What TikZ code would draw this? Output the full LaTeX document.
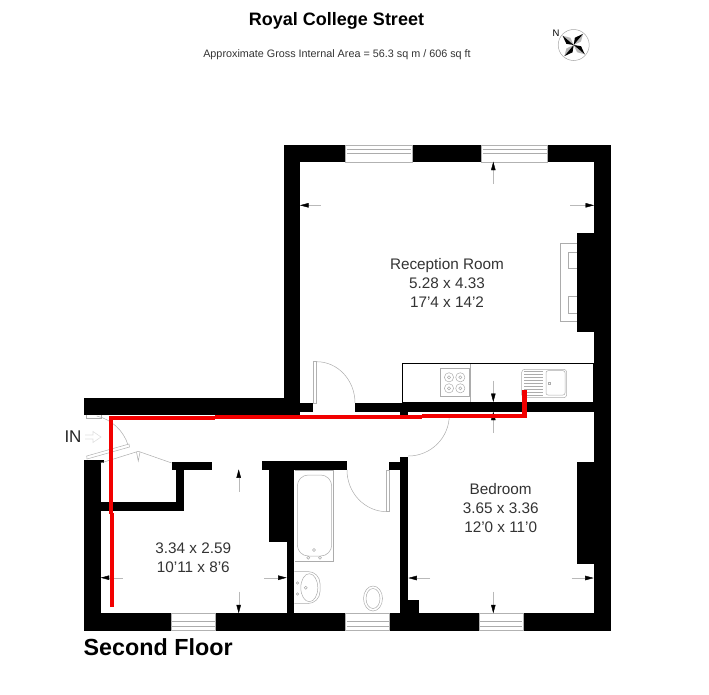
\documentclass[tikz,border=0pt]{standalone}
\usepackage{fontspec}
\setmainfont{Liberation Sans}
\usetikzlibrary{arrows.meta}
\begin{document}
\begin{tikzpicture}[x=1pt,y=-1pt,
    wall/.style ={fill=black},
    glass/.style ={draw=gray!60, line width=0.5pt, fill=white},
    fitting/.style ={draw=gray!65, line width=0.5pt},
    dimline/.style ={draw=gray!55, line width=0.4pt, -{Triangle[length=8.5pt,width=4.5pt,color=black]}},
    room/.style ={align=center, text=black!80, font=\fontsize{15.3}{19}\selectfont},
    route/.style ={draw=red!95!black, line width=4.3pt}]
   \useasboundingbox (0,0) rectangle (709,694);
   \foreach \xa/\ya/\xb/\yb in {283.5/145/610.7/162, 283.5/145/300/412, 594/145/610.7/630.7,
      577/232.7/594/332.3, 577/461.7/594/564, 355/403/594/411.7, 300/403/313.3/411.7,
      83.7/397.5/300/414.5, 400/411/408/415, 400/456.7/408.3/613.3, 389/461.7/408.3/469.7,
      400/600/419.3/613.3, 83.7/613.3/610.7/630.7, 83.7/460/100.7/613.3, 100/460/104/463,
      100.7/502.3/183.7/511, 175.7/463/183.7/511, 171.7/461.7/211.7/470,
      261.7/461/346.7/470, 269.3/461/294.3/541.7, 286.7/541/294.3/613.3}
      \fill[wall] (\xa,\ya) rectangle (\xb,\yb);
   \foreach \xa/\xb in {345.7/412, 481.7/547.7}{
      \draw[glass] (\xa,145) rectangle (\xb,162);
      \draw[fitting] (\xa+1,149.3) -- (\xb-1,149.3) (\xa+1,153.3) -- (\xb-1,153.3);
   }
   \foreach \xa/\xb in {171/215.7, 345.7/389.7, 479.3/523.3}{
      \draw[glass] (\xa,613.3) rectangle (\xb,630.7);
      \draw[fitting] (\xa+1,621.7) -- (\xb-1,621.7) (\xa+1,626) -- (\xb-1,626);
   }
   % fireplace
   \draw[fitting] (577,243.7) -- (560,243.7) -- (560,321) -- (577,321);
   \draw[fitting] (577,252) -- (568.7,252) -- (568.7,268) -- (577,268);
   \draw[fitting] (577,296) -- (568.7,296) -- (568.7,313) -- (577,313);
   % kitchen
   \draw[fitting] (440,368.3) rectangle (469,396.7);
   \draw[fitting] (470.3,363.3) -- (470.3,402.3);
   \foreach \cx in {449,460.3}
      \foreach \cy in {377.3,388.3}{
         \draw[fitting] (\cx,\cy) circle (4.6pt);
         \draw[fitting] (\cx,\cy) circle (1.6pt);
      }
   \draw[fitting, rounded corners=3pt] (521.7,369.3) rectangle (566.7,397.7);
   \draw[fitting, rounded corners=2pt] (546,370.7) rectangle (565,395);
   \draw[fitting] (548.3,382.3) rectangle (550.3,384.3);
   \foreach \ly in {371,374,377,380,383,386,389,392,395}
      \draw[fitting] (524.3,\ly) -- (543.3,\ly);
   \draw[line width=0.8pt] (402.3,363.3) rectangle (593.7,402.3);
   % bathroom
   \draw[fitting] (295,470) -- (333.3,470) -- (333.3,561.7) -- (295,561.7);
   \draw[fitting, rounded corners=11pt] (297.3,475) rectangle (331.7,556);
   \draw[fitting] (314,550) circle (1.5pt) (308.3,557.7) circle (1.5pt) (320,557.7) circle (1.5pt);
   \draw[fitting, rounded corners=12pt] (294.3,571.5) -- (320,571.5) -- (320,603.5) -- (294.3,603.5);
   \draw[fitting] (309.3,587.7) ellipse (8.5pt and 14pt);
   \draw[fitting] (305.7,587.7) circle (1.5pt) (297.5,583) circle (1.2pt) (297.5,594) circle (1.2pt);
   \draw[fitting] (373,598.5) ellipse (9.5pt and 12.5pt);
   \draw[fitting] (373,598.5) ellipse (7pt and 10pt);
   % doors
   \draw[glass] (313.3,361.7) rectangle (316.7,403);
   \draw[fitting] (316.7,361.7) arc[start angle=90, end angle=0, x radius=38.3pt, y radius=41.3pt];
   \draw[fitting] (449.3,415) arc[start angle=0, end angle=-90, radius=41pt];
   \draw[glass] (386,470) rectangle (389.3,511.7);
   \draw[fitting] (347,470) arc[start angle=180, end angle=270, x radius=40pt, y radius=41.7pt];
   \draw[fitting] (96.7,416) arc[start angle=77, end angle=17, radius=43pt];
   \draw[fitting] (86.7,414.5) -- (86.7,418) -- (101.7,418) -- (101.7,414.5);
   \draw[glass] (86.7,456) -- (129,444) -- (129.5,447) -- (87,459) -- cycle;
   \draw[fitting] (100.7,463) -- (138.3,451.3) -- (171.7,463);
   \draw[fitting] (136.5,452) -- (138.3,461) -- (140,452);
   % dimensions
   \foreach \xa/\ya/\xb/\yb in {320.7/205.3/300/205.3, 570/205.3/594/205.3, 493.3/184/493.3/161.7,
      493.3/380.7/493.3/402, 493.3/433/493.3/411.7, 122.7/577.7/100.7/577.7, 264/577.7/286.7/577.7,
      238.7/491.7/238.7/469.3, 238.7/591.7/238.7/613.3, 430/578/408.3/578, 571.7/578/593.7/578,
      493.3/591.7/493.3/613.3}
      \draw[dimline] (\xa,\ya) -- (\xb,\yb);
   % way in
   \draw[gray!25, line width=0.6pt] (85,435) -- (93,435) -- (93,431.5) -- (101,437) -- (93,442.5) -- (93,439) -- (85,439);
   % compass
   \draw[gray!70, line width=0.5pt] (573.7,45) circle (15.5pt);
   \foreach \ang in {50,140,230,320}{
      \fill[gray!55] (573.7,45) -- ++(\ang:14.5pt) -- ++(\ang-155:8pt) -- cycle;
      \fill[black] (573.7,45) -- ++(\ang:14.5pt) -- ++(\ang+155:9pt) -- cycle;
   }
   \node (north) at (556,33.5) {\fontsize{9.5}{9.5}\selectfont N};
   % route
   \coordinate (routeA) at (111.7,607);
   \coordinate (routeB) at (111.7,513);
   \coordinate (routeC) at (110.7,514);
   \coordinate (routeD) at (110.7,418);
   \coordinate (routeE) at (215,418);
   \coordinate (routeF) at (215,417.2);
   \coordinate (routeG) at (421.7,417.2);
   \coordinate (routeH) at (421.7,416.2);
   \coordinate (routeI) at (524.4,416.2);
   \coordinate (routeJ) at (524.4,390);
   \draw[route] (routeA) -- (routeB);
   \draw[route] (routeC) -- (routeD) -- (routeE);
   \draw[route] (routeF) -- (routeG);
   \draw[route] (routeH) -- (routeI) -- (routeJ);
   % labels
   \node (title) at (336.5,21) {\fontsize{18}{18}\selectfont\bfseries Royal College Street};
   \node[text=black!80] (area) at (337,54.5) {\fontsize{10.8}{10.8}\selectfont Approximate Gross Internal Area = 56.3 sq m / 606 sq ft};
   \node[room] (reception) at (447,283.3) {Reception Room\\5.28 x 4.33\\17'4 x 14'2};
   \node[room] (bedroom) at (500.7,508.3) {Bedroom\\3.65 x 3.36\\12'0 x 11'0};
   \node[room] (hall) at (193.3,557.8) {3.34 x 2.59\\10'11 x 8'6};
   \node[text=black!85] (way) at (73,437) {\fontsize{17}{17}\selectfont IN};
   \node[anchor=west, inner sep=0pt] (floor) at (83.5,647) {\fontsize{23.3}{23.3}\selectfont\bfseries Second Floor};
\end{tikzpicture}
\end{document}
